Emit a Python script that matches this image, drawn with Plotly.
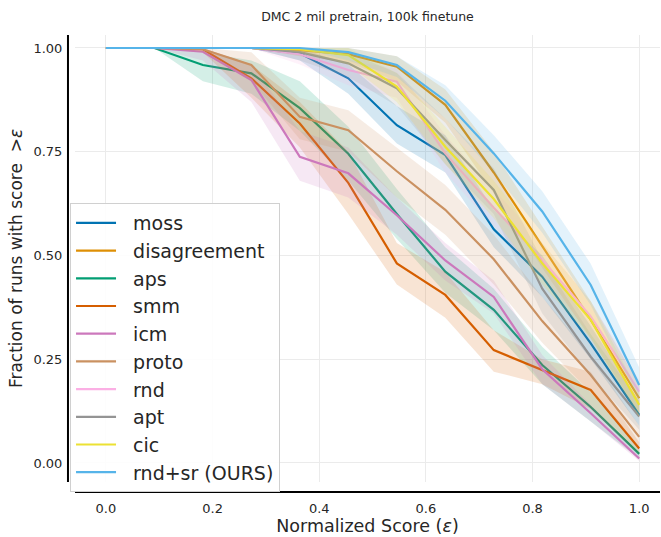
import plotly.graph_objects as go

tau = [0.0, 0.0909, 0.1818, 0.2727, 0.3636, 0.4545, 0.5455, 0.6364, 0.7273, 0.8182, 0.9091, 1.0]

names = ["moss", "disagreement", "aps", "smm", "icm", "proto", "rnd", "apt", "cic", "rnd+sr (OURS)"]
colors = ["#0173b2", "#de8f05", "#029e73", "#d55e00", "#cc78bc", "#ca9161", "#fbafe4", "#949494", "#ece133", "#56b4e9"]

moss = [1, 1, 1, 1, 0.987, 0.927, 0.814, 0.742, 0.563, 0.449, 0.288, 0.116]
moss_lo = [1, 1, 1, 1, 0.97, 0.89, 0.77, 0.70, 0.52, 0.40, 0.25, 0.09]
moss_hi = [1, 1, 1, 1, 1.0, 0.96, 0.86, 0.79, 0.61, 0.50, 0.33, 0.15]

disagreement = [1, 1, 1, 1, 0.995, 0.985, 0.955, 0.863, 0.70, 0.521, 0.345, 0.156]
disagreement_lo = [1, 1, 1, 1, 0.98, 0.965, 0.92, 0.82, 0.65, 0.47, 0.30, 0.12]
disagreement_hi = [1, 1, 1, 1, 1, 1, 0.98, 0.90, 0.75, 0.57, 0.39, 0.19]

aps = [1, 1, 0.959, 0.939, 0.855, 0.745, 0.60, 0.461, 0.369, 0.236, 0.135, 0.022]
aps_lo = [1, 1, 0.92, 0.89, 0.80, 0.68, 0.54, 0.41, 0.32, 0.19, 0.10, 0.01]
aps_hi = [1, 1, 0.99, 0.97, 0.92, 0.81, 0.66, 0.52, 0.42, 0.28, 0.17, 0.04]

smm = [1, 1, 0.997, 0.927, 0.818, 0.675, 0.481, 0.405, 0.272, 0.224, 0.176, 0.035]
smm_lo = [1, 1, 0.99, 0.88, 0.76, 0.60, 0.43, 0.35, 0.22, 0.19, 0.13, 0.02]
smm_hi = [1, 1, 1, 0.96, 0.87, 0.75, 0.53, 0.46, 0.32, 0.25, 0.22, 0.05]

icm = [1, 1, 0.991, 0.923, 0.738, 0.698, 0.597, 0.488, 0.40, 0.226, 0.12, 0.011]
icm_lo = [1, 1, 0.97, 0.87, 0.68, 0.64, 0.55, 0.44, 0.36, 0.19, 0.10, 0.005]
icm_hi = [1, 1, 1, 0.96, 0.80, 0.76, 0.64, 0.53, 0.44, 0.26, 0.14, 0.02]

proto = [1, 1, 0.997, 0.959, 0.834, 0.802, 0.703, 0.61, 0.491, 0.342, 0.212, 0.063]
proto_lo = [1, 1, 0.99, 0.92, 0.78, 0.75, 0.64, 0.55, 0.43, 0.29, 0.17, 0.04]
proto_hi = [1, 1, 1, 0.99, 0.88, 0.85, 0.76, 0.67, 0.55, 0.40, 0.26, 0.09]

rnd = [1, 1, 1, 1, 0.985, 0.947, 0.919, 0.746, 0.615, 0.49, 0.353, 0.172]
rnd_lo = [1, 1, 1, 1, 0.96, 0.91, 0.88, 0.70, 0.57, 0.45, 0.31, 0.14]
rnd_hi = [1, 1, 1, 1, 1, 0.97, 0.95, 0.79, 0.66, 0.53, 0.39, 0.20]

apt = [1, 1, 1, 1, 0.99, 0.963, 0.903, 0.778, 0.658, 0.42, 0.256, 0.112]
apt_lo = [1, 1, 1, 1, 0.97, 0.93, 0.86, 0.72, 0.60, 0.36, 0.21, 0.08]
apt_hi = [1, 1, 1, 1, 1, 0.99, 0.94, 0.83, 0.71, 0.49, 0.31, 0.15]

cic = [1, 1, 1, 1, 0.997, 0.983, 0.907, 0.762, 0.636, 0.481, 0.345, 0.14]
cic_lo = [1, 1, 1, 1, 0.99, 0.96, 0.87, 0.72, 0.59, 0.43, 0.30, 0.11]
cic_hi = [1, 1, 1, 1, 1, 1, 0.94, 0.81, 0.68, 0.53, 0.39, 0.17]

rndsr = [1, 1, 1, 1, 1.0, 0.99, 0.959, 0.873, 0.746, 0.606, 0.429, 0.188]
rndsr_lo = [1, 1, 1, 1, 1, 0.97, 0.93, 0.83, 0.70, 0.555, 0.38, 0.15]
rndsr_hi = [1, 1, 1, 1, 1, 1, 0.98, 0.91, 0.79, 0.655, 0.48, 0.23]

series = [
    (moss, moss_lo, moss_hi),
    (disagreement, disagreement_lo, disagreement_hi),
    (aps, aps_lo, aps_hi),
    (smm, smm_lo, smm_hi),
    (icm, icm_lo, icm_hi),
    (proto, proto_lo, proto_hi),
    (rnd, rnd_lo, rnd_hi),
    (apt, apt_lo, apt_hi),
    (cic, cic_lo, cic_hi),
    (rndsr, rndsr_lo, rndsr_hi),
]

x_ticks = [0.0, 0.2, 0.4, 0.6, 0.8, 1.0]
y_ticks = [0.0, 0.25, 0.5, 0.75, 1.0]


def rgba(hexc, a):
    h = hexc.lstrip("#")
    r, g, b = int(h[0:2], 16), int(h[2:4], 16), int(h[4:6], 16)
    return f"rgba({r},{g},{b},{a})"


fig = go.Figure()
for i, ((mid, lo, hi), name, col) in enumerate(zip(series, names, colors)):
    fig.add_trace(go.Scatter(
        x=tau + tau[::-1], y=hi + lo[::-1], fill="toself",
        fillcolor=rgba(col, 0.17), line=dict(width=0), mode="lines",
        showlegend=False, hoverinfo="skip", legendgroup=name,
    ))
    fig.add_trace(go.Scatter(
        x=tau, y=mid, mode="lines", name="\u00a0\u00a0" + name, legendgroup=name,
        line=dict(color=col, width=2.2),
    ))

font_family = "DejaVu Sans"
fig.update_layout(
    width=661, height=537,
    margin=dict(l=75, r=1, t=35, b=55),
    plot_bgcolor="white", paper_bgcolor="white",
    font=dict(family=font_family, color="#262626"),
    title=dict(text="DMC 2 mil pretrain, 100k finetune", x=0.5, xref="paper",
               y=1 - 17 / 537, yanchor="middle", xanchor="center",
               font=dict(size=12.5, color="#262626")),
    legend=dict(
        x=-0.0085, y=0.624, xanchor="left", yanchor="top",
        bgcolor="rgba(255,255,255,0.9)", bordercolor="#d0d0d0", borderwidth=1,
        font=dict(size=19, color="#262626", family=font_family),
        tracegroupgap=0, itemwidth=40,
    ),
)
fig.update_xaxes(
    range=[-0.058, 1.039], tickvals=x_ticks, tickformat=".1f",
    showgrid=True, gridcolor="#ebebeb", gridwidth=1, zeroline=False,
    showline=False, ticks="outside", ticklen=14, tickcolor="rgba(0,0,0,0)",
    tickfont=dict(size=13, color="#262626"),
    title=dict(text="Normalized Score (<i>ε</i>)", font=dict(size=17.5, color="#262626"), standoff=3),
)
fig.update_yaxes(
    range=[-0.0458, 1.0313], tickvals=y_ticks, tickformat=".2f",
    showgrid=True, gridcolor="#ebebeb", gridwidth=1, zeroline=False,
    showline=False, ticks="outside", ticklen=9, tickcolor="rgba(0,0,0,0)",
    tickfont=dict(size=13, color="#262626"),
    title=dict(text="Fraction of runs with score  ><i>ε</i>", font=dict(size=17, color="#262626"), standoff=6),
)
# offset spines
fig.add_shape(type="line", xref="paper", yref="paper", x0=-0.012, x1=-0.012, y0=0.0, y1=1.0,
              line=dict(color="black", width=2), layer="above")
fig.add_shape(type="line", xref="paper", yref="paper", x0=0.0, x1=1.0, y0=-0.0224, y1=-0.0224,
              line=dict(color="black", width=2), layer="above")

fig.write_html("out.html")
